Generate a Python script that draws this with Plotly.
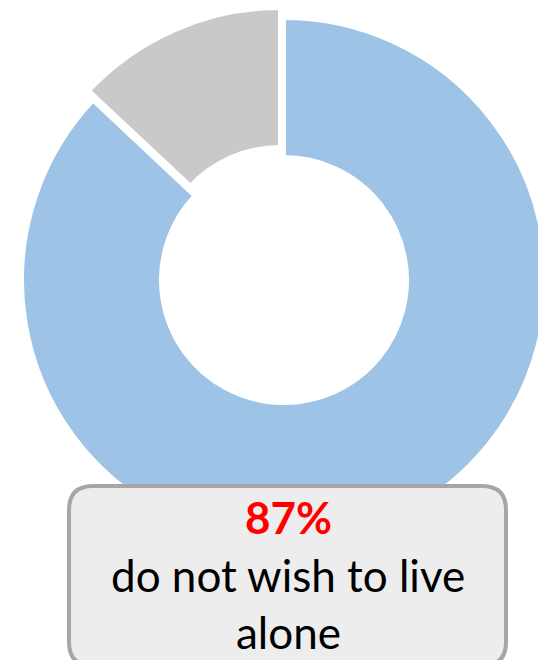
import plotly.graph_objects as go

# ---- data ----
labels = ["do not wish to live alone", "wish to live alone"]
values = [87, 13]
colors = ["#9DC3E6", "#C9C9C9"]
headline = "87%"
caption_lines = ["do not wish to live", "alone"]

# figure size (page body adds an 8px margin on top/left)
W, H = 538, 652
OFF = 8

def px_x(x):
    return (x - OFF) / W

def px_y(y):
    return 1 - (y - OFF) / H

# pie geometry in window pixels
cx, cy, r = 284, 280, 262
hole_r = 123
dx, dy = -4, -10  # offset of the pulled slice

def domain(ox=0, oy=0):
    return dict(
        x=[max(0, px_x(cx + ox - r)), min(1, px_x(cx + ox + r))],
        y=[max(0, px_y(cy + oy + r)), min(1, px_y(cy + oy - r))],
    )

fig = go.Figure()
# main ring (blue slice)
fig.add_trace(go.Pie(
    labels=labels, values=values, sort=False, direction="clockwise", rotation=0,
    hole=hole_r / r, textinfo="none", hoverinfo="label+percent",
    marker=dict(colors=[colors[0], "rgba(0,0,0,0)"],
                line=dict(color="white", width=[4, 0])),
    domain=domain(), showlegend=False,
))
# pulled-out slice (gray)
fig.add_trace(go.Pie(
    labels=labels, values=values, sort=False, direction="clockwise", rotation=0,
    hole=hole_r / r, textinfo="none", hoverinfo="label+percent",
    marker=dict(colors=["rgba(0,0,0,0)", colors[1]],
                line=dict(color="white", width=[0, 4])),
    domain=domain(dx, dy), showlegend=False,
))

# rounded callout box
L, R, T, B, rad = 69, 506, 486, 666, 24
path = (
    f"M {px_x(L+rad)},{px_y(T)} L {px_x(R-rad)},{px_y(T)} "
    f"Q {px_x(R)},{px_y(T)} {px_x(R)},{px_y(T+rad)} "
    f"L {px_x(R)},{px_y(B-rad)} Q {px_x(R)},{px_y(B)} {px_x(R-rad)},{px_y(B)} "
    f"L {px_x(L+rad)},{px_y(B)} Q {px_x(L)},{px_y(B)} {px_x(L)},{px_y(B-rad)} "
    f"L {px_x(L)},{px_y(T+rad)} Q {px_x(L)},{px_y(T)} {px_x(L+rad)},{px_y(T)} Z"
)
fig.add_shape(type="path", path=path, xref="paper", yref="paper",
              fillcolor="#EDEDED", line=dict(color="#A6A6A6", width=4), layer="above")

font_family = "Lato, 'Open Sans', sans-serif"
fs = 44
fig.add_annotation(x=px_x(288), y=px_y(517), xref="paper", yref="paper",
                   text=f"<b>{headline}</b>", showarrow=False, xanchor="center", yanchor="middle",
                   font=dict(family=font_family, size=fs, color="#FF0000"))
for i, line in enumerate(caption_lines):
    fig.add_annotation(x=px_x(288), y=px_y(575 + 57 * i), xref="paper", yref="paper",
                       text=line, showarrow=False, xanchor="center", yanchor="middle",
                       font=dict(family=font_family, size=fs, color="#000000"))

fig.update_layout(
    width=W, height=H, margin=dict(l=0, r=0, t=0, b=0),
    paper_bgcolor="white", plot_bgcolor="white", showlegend=False,
)

fig.write_html("out.html")
